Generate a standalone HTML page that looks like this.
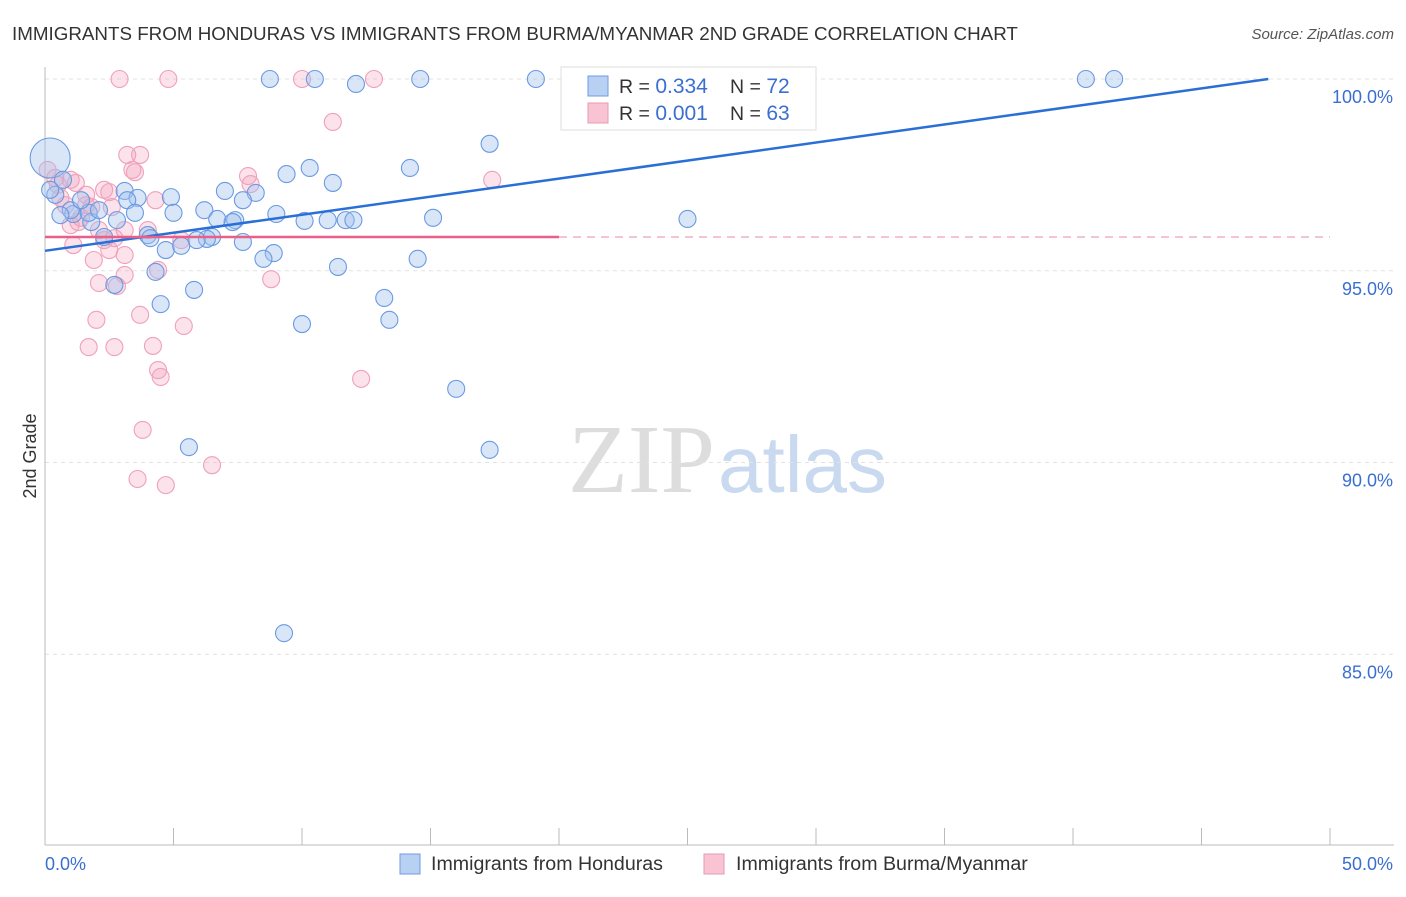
<!DOCTYPE html>
<html><head><meta charset="utf-8"><style>
body{margin:0;background:#fff;}
</style></head><body>
<svg id="c" width="1406" height="892" font-family="Liberation Sans, sans-serif">
<text x="12" y="40" font-size="18.8" fill="#333">IMMIGRANTS FROM HONDURAS VS IMMIGRANTS FROM BURMA/MYANMAR 2ND GRADE CORRELATION CHART</text>
<text x="1394" y="39" font-size="15" fill="#555" text-anchor="end" font-style="italic">Source: ZipAtlas.com</text>
<text x="36" y="456" font-size="18" fill="#333" text-anchor="middle" transform="rotate(-90 36 456)">2nd Grade</text>
<text x="715" y="492" font-size="98" fill="#ddd" text-anchor="end" font-family="Liberation Serif, serif">ZIP</text>
<text x="718" y="492" font-size="80" fill="#c9d9ef">atlas</text>
<g id="grid"></g><g id="pts"></g><g id="lines"></g>
<g>
<rect x="561" y="67" width="255" height="63" fill="#fff" stroke="#ddd"/>
<rect x="588" y="76" width="20" height="20" fill="#b8d1f3" stroke="#6f9be0"/>
<rect x="588" y="103" width="20" height="20" fill="#f8c4d4" stroke="#e89ab3"/>
<text x="619" y="93" font-size="19.5" fill="#333">R = <tspan fill="#3a6fd0" font-size="21">0.334</tspan></text>
<text x="730" y="93" font-size="19.5" fill="#333">N = <tspan fill="#3a6fd0" font-size="21">72</tspan></text>
<text x="619" y="120" font-size="19.5" fill="#333">R = <tspan fill="#3a6fd0" font-size="21">0.001</tspan></text>
<text x="730" y="120" font-size="19.5" fill="#333">N = <tspan fill="#3a6fd0" font-size="21">63</tspan></text>
</g>
<g>
<rect x="400" y="854" width="20" height="20" fill="#b8d1f3" stroke="#6f9be0"/>
<text x="431" y="870" font-size="19.6" fill="#333">Immigrants from Honduras</text>
<rect x="704" y="854" width="20" height="20" fill="#f8c4d4" stroke="#e89ab3"/>
<text x="736" y="870" font-size="19.6" fill="#333">Immigrants from Burma/Myanmar</text>
</g>
</svg>
<script>
const yTicks=[100,95,90,85];
const yTickLabels=["100.0%","95.0%","90.0%","85.0%"];
const xTickVals=[0,5,10,15,20,25,30,35,40,45,50];
const blueX=[8.75,10.5,12.1,14.6,19.1,23.9,28.2,40.5,41.6,17.3,0.2,14.2,10.3,9.4,11.2,3.1,7.0,8.2,4.9,3.6,7.7,3.2,0.4,0.7,0.2,6.2,5.0,3.5,9.0,15.1,25.0,6.7,7.4,10.1,11.0,11.7,12.0,7.3,2.8,1.8,1.1,1.7,1.0,2.3,4.0,4.1,6.5,6.3,5.9,7.7,4.7,5.3,8.9,8.5,14.5,11.4,4.3,2.7,5.8,4.5,13.2,10.0,13.4,16.0,5.6,17.3,9.3,0.6,1.4,2.1];
const blueY=[100,100,99.87,100,100,100,100,100,100,98.31,97.94,97.68,97.68,97.52,97.29,97.08,97.08,97.03,96.92,96.9,96.84,96.84,96.98,97.37,97.11,96.58,96.51,96.51,96.48,96.38,96.35,96.35,96.32,96.3,96.32,96.32,96.32,96.27,96.32,96.27,96.48,96.51,96.58,95.88,95.93,95.85,95.88,95.83,95.8,95.75,95.54,95.65,95.46,95.31,95.31,95.1,94.97,94.63,94.5,94.13,94.29,93.61,93.72,91.92,90.4,90.33,85.55,96.45,96.84,96.58];
const pinkX=[2.9,4.8,10.0,12.8,11.2,3.2,3.7,3.4,3.5,7.9,8.0,0.1,0.4,1.0,1.2,2.3,2.5,4.3,17.4,0.6,0.8,1.6,1.8,2.6,1.4,1.3,2.1,4.0,3.1,2.3,2.7,5.3,1.1,2.5,1.9,3.1,4.4,3.1,2.1,2.8,8.8,2.0,3.7,5.4,1.7,2.7,4.2,4.4,4.5,12.3,3.8,6.5,3.6,4.7,1.0,1.6,0.5];
const pinkY=[100,100,100,100,98.88,98.02,98.02,97.63,97.57,97.47,97.26,97.63,97.42,97.37,97.29,97.11,97.05,96.84,97.37,96.9,96.71,96.71,96.66,96.66,96.38,96.27,96.06,96.06,96.06,95.8,95.85,95.8,95.67,95.54,95.28,95.41,95.02,94.89,94.68,94.6,94.78,93.72,93.85,93.56,93.01,93.01,93.04,92.41,92.23,92.18,90.85,89.93,89.57,89.41,96.19,96.98,97.24];
const blueTrend=[[0,95.52],[47.6,100]];
const pinkTrend=[95.88,95.88];
const NS="http://www.w3.org/2000/svg";
const sx=v=>45+v*25.7, sy=v=>79+(100-v)*38.35;
function mk(t,a,p){const e=document.createElementNS(NS,t);for(const k in a)e.setAttribute(k,a[k]);p.appendChild(e);return e;}
const grid=document.getElementById('grid');
yTicks.forEach((t,i)=>{
 const l=mk('line',{x1:45,x2:1394,y1:sy(t),y2:sy(t),stroke:'#e2e2e2','stroke-dasharray':'4,4'},grid);
 
 
 const tx=mk('text',{x:1393,y:sy(t)+24,'font-size':18,fill:'#3a6fd0','text-anchor':'end'},grid);tx.textContent=yTickLabels[i];
 
 
});
mk('line',{x1:45,x2:45,y1:67,y2:845,stroke:'#bbb'},grid);
mk('line',{x1:45,x2:1394,y1:845,y2:845,stroke:'#bbb'},grid);
xTickVals.forEach(v=>{mk('line',{x1:sx(v),x2:sx(v),y1:828,y2:845,stroke:'#bbb'},grid);});
let t0=mk('text',{x:45,y:870,'font-size':18,fill:'#3a6fd0'},grid);t0.textContent='0.0%';


let t1=mk('text',{x:1393,y:870,'font-size':18,fill:'#3a6fd0','text-anchor':'end'},grid);t1.textContent='50.0%';


const pts=document.getElementById('pts');
pinkX.forEach((x,i)=>{const c=mk('circle',{cx:sx(x),cy:sy(pinkY[i]),r:8.5,fill:'rgba(243,160,188,0.3)',stroke:'#f0a0ba','stroke-width':1.1},pts);
 
 });
blueX.forEach((x,i)=>{const c=mk('circle',{cx:sx(x),cy:sy(blueY[i]),r:(i==10?20:8.5),fill:'rgba(160,192,238,0.4)',stroke:'#6a9ae2','stroke-width':1.1},pts);
 
 });
const lines=document.getElementById('lines');
let bl=mk('line',{x1:sx(blueTrend[0][0]),y1:sy(blueTrend[0][1]),x2:sx(blueTrend[1][0]),y2:sy(blueTrend[1][1]),stroke:'#2a6fd6','stroke-width':2.5},lines);


let pl=mk('line',{x1:sx(0),y1:sy(pinkTrend[0]),x2:sx(20),y2:sy(pinkTrend[0]),stroke:'#e8608a','stroke-width':2.5},lines);


let pd=mk('line',{x1:sx(20),y1:sy(pinkTrend[0]),x2:sx(50),y2:sy(pinkTrend[1]),stroke:'#eea0b8','stroke-width':1.3,'stroke-dasharray':'8,6'},lines);


</script>
</body></html>
